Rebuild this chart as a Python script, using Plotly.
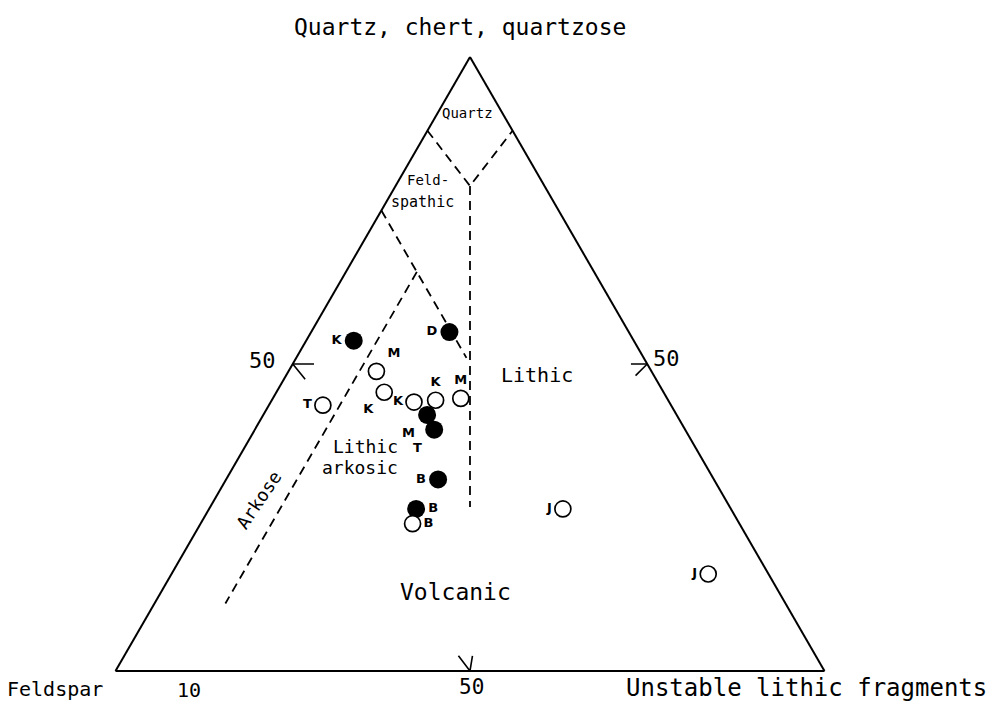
import plotly.graph_objects as go

# ---- data (percent: Q = quartz/chert/quartzose, F = feldspar, L = unstable lithic fragments)
filled_labels = ["K", "D", "M", "T", "B", "B"]
filled_q = [53.8, 55.2, 41.7, 39.3, 31.2, 26.4]
filled_f = [39.5, 25.3, 35.2, 35.4, 38.9, 44.4]
filled_l = [6.7, 19.5, 23.1, 25.3, 29.9, 29.2]

open_labels = ["B", "M", "K", "T", "K", "K", "M", "J", "J"]
open_q = [24.0, 48.8, 45.4, 43.3, 43.8, 44.1, 44.4, 26.4, 15.8]
open_f = [46.1, 38.8, 39.4, 49.1, 36.0, 32.8, 29.1, 23.7, 8.5]
open_l = [29.9, 12.4, 15.2, 7.6, 20.2, 23.1, 26.5, 49.9, 75.7]

# class boundaries (dashed)
quartz_q = [88, 79, 88]
quartz_f = [12, 10.5, 0]
quartz_l = [0, 10.5, 12]
divide_q = [79, 26.7]
divide_f = [10.5, 36.65]
divide_l = [10.5, 36.65]
feldsp_q = [75, 51]
feldsp_f = [25, 25]
feldsp_l = [0, 24]
arkose_q = [65, 11]
arkose_f = [25, 79]
arkose_l = [10, 10]

# 50 % marks on each side
mark_left_q = [50, 50, None, 50, 47.5]
mark_left_f = [50, 47, None, 50, 49.5]
mark_left_l = [0, 3, None, 0, 3]
mark_right_q = [50, 50, None, 50, 48.1]
mark_right_f = [0, 2.3, None, 0, 2.6]
mark_right_l = [50, 47.7, None, 50, 49.3]
mark_bot_q = [2.5, 0, 2.5]
mark_bot_f = [50.9, 50, 48.9]
mark_bot_l = [47.6, 50, 49.6]

FONT = "DejaVu Sans Mono"
fig = go.Figure()

def dashed(q, f, l):
    fig.add_trace(go.Scatterternary(a=q, b=f, c=l, mode="lines", hoverinfo="skip",
                                    line=dict(color="black", width=1.8, dash="9px,6px"),
                                    showlegend=False))

def solid(q, f, l):
    fig.add_trace(go.Scatterternary(a=q, b=f, c=l, mode="lines", hoverinfo="skip",
                                    line=dict(color="black", width=1.6),
                                    showlegend=False, connectgaps=False))

dashed(quartz_q, quartz_f, quartz_l)
dashed(divide_q, divide_f, divide_l)
dashed(feldsp_q, feldsp_f, feldsp_l)
dashed(arkose_q, arkose_f, arkose_l)
solid(mark_left_q, mark_left_f, mark_left_l)
solid(mark_right_q, mark_right_f, mark_right_l)
solid(mark_bot_q, mark_bot_f, mark_bot_l)

filled_pos = ["middle left", "middle left", "bottom left", "bottom left", "middle left", "middle right"]
open_pos = ["middle right", "top right", "bottom left", "middle left", "middle left",
            "top center", "top center", "middle left", "middle left"]

fig.add_trace(go.Scatterternary(
    a=filled_q, b=filled_f, c=filled_l, mode="markers+text", text=filled_labels,
    textposition=filled_pos, textfont=dict(family="DejaVu Sans", size=13, color="black", weight="bold"),
    marker=dict(size=18, color="black", line=dict(width=0)), showlegend=False))
fig.add_trace(go.Scatterternary(
    a=open_q, b=open_f, c=open_l, mode="markers+text", text=open_labels,
    textposition=open_pos, textfont=dict(family="DejaVu Sans", size=13, color="black", weight="bold"),
    marker=dict(size=16, color="white", line=dict(width=1.7, color="black")), showlegend=False))

OFF = 8  # page body margin
L, T, PW, PH = 94, 49, 736, 614

def P(x, y):
    return (x - OFF - L) / PW, 1 - (y - OFF - T) / PH

def note(text, x, y, size=16, angle=0, xanchor="center"):
    px, py = P(x, y)
    fig.add_annotation(text=text, x=px, y=py, xref="paper", yref="paper", showarrow=False,
                       xanchor=xanchor, yanchor="middle", textangle=angle,
                       font=dict(family=FONT, size=size, color="black"))

note("Quartz, chert, quartzose", 460, 27, 23)
note("Feldspar", 55, 689, 20)
note("10", 189, 690, 20)
note("50", 472, 687, 21)
note("Unstable lithic fragments", 806, 688, 24)
note("50", 262, 360, 22)
note("50", 666, 358, 22)
note("Quartz", 467, 113, 14)
note("Feld-", 405, 180, 14, xanchor="left")
note("spathic", 389, 202, 15, xanchor="left")
note("Lithic", 537, 375, 20)
note("Lithic", 365, 447, 18)
note("arkosic", 360, 467, 18)
note("Arkose", 258, 500, 18, angle=-56)
note("Volcanic", 455, 592, 23)

axis = dict(showgrid=False, showticklabels=False, ticks="", showline=True,
            linecolor="black", linewidth=2, title=dict(text=""))
fig.update_layout(
    width=1001, height=708,
    margin=dict(l=L, r=1001 - L - PW, t=T, b=708 - T - PH),
    paper_bgcolor="white", plot_bgcolor="white",
    ternary=dict(sum=100, bgcolor="white", aaxis=axis, baxis=axis, caxis=axis),
    showlegend=False,
)
fig.write_html("out.html")
